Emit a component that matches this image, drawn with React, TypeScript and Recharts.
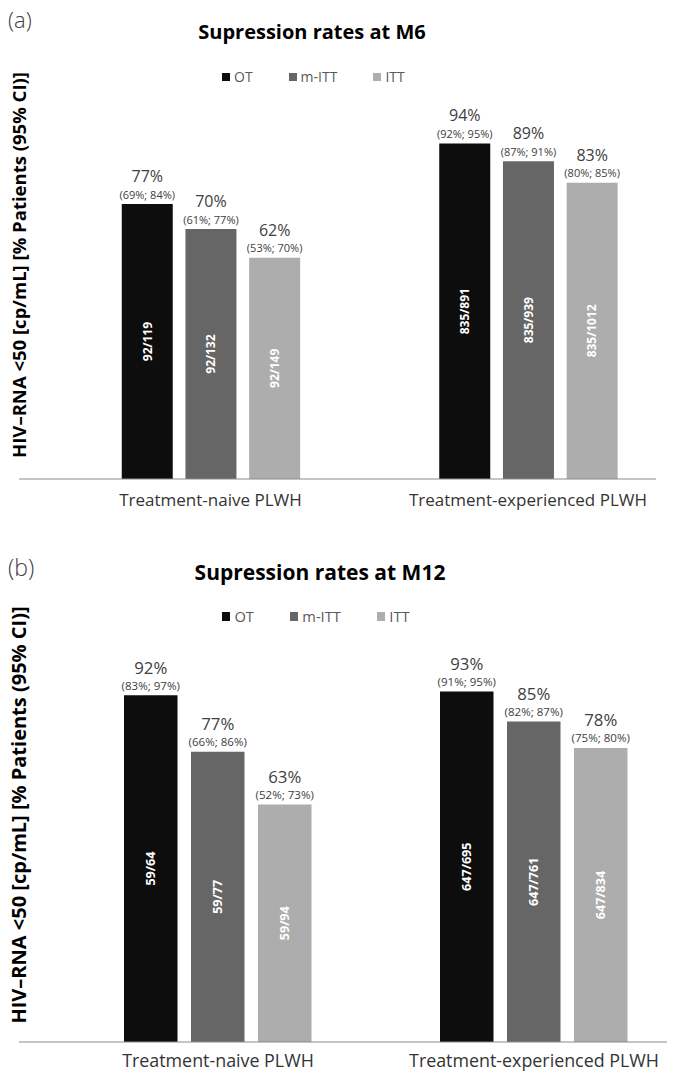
import { Bar, BarChart, LabelList, Legend, XAxis, YAxis } from "recharts";

const CATEGORIES = ["Treatment-naive PLWH", "Treatment-experienced PLWH"];
const SERIES = ["OT", "m-ITT", "ITT"];
const COLORS = ["#0d0d0d", "#666666", "#adadad"];

// M6
const M6_OT = [77, 94];
const M6_MITT = [70, 89];
const M6_ITT = [62, 83];
const M6_OT_CI = ["(69%; 84%)", "(92%; 95%)"];
const M6_MITT_CI = ["(61%; 77%)", "(87%; 91%)"];
const M6_ITT_CI = ["(53%; 70%)", "(80%; 85%)"];
const M6_OT_N = ["92/119", "835/891"];
const M6_MITT_N = ["92/132", "835/939"];
const M6_ITT_N = ["92/149", "835/1012"];

// M12
const M12_OT = [92, 93];
const M12_MITT = [77, 85];
const M12_ITT = [63, 78];
const M12_OT_CI = ["(83%; 97%)", "(91%; 95%)"];
const M12_MITT_CI = ["(66%; 86%)", "(82%; 87%)"];
const M12_ITT_CI = ["(52%; 73%)", "(75%; 80%)"];
const M12_OT_N = ["59/64", "647/695"];
const M12_MITT_N = ["59/77", "647/761"];
const M12_ITT_N = ["59/94", "647/834"];

const Y_LABEL = "HIV\u2013RNA <50 [cp/mL] [% Patients (95% CI)]";
const FONT = "'Open Sans', 'DejaVu Sans', sans-serif";

function buildRows(vals: number[][], cis: string[][], ns: string[][]) {
  return CATEGORIES.map((name, i) => {
    const row: any = { name };
    SERIES.forEach((s, j) => {
      row[s] = vals[j][i];
      row[s + "_ci"] = cis[j][i];
      row[s + "_n"] = ns[j][i];
    });
    return row;
  });
}

const M6_ROWS = buildRows(
  [M6_OT, M6_MITT, M6_ITT],
  [M6_OT_CI, M6_MITT_CI, M6_ITT_CI],
  [M6_OT_N, M6_MITT_N, M6_ITT_N]
);
const M12_ROWS = buildRows(
  [M12_OT, M12_MITT, M12_ITT],
  [M12_OT_CI, M12_MITT_CI, M12_ITT_CI],
  [M12_OT_N, M12_MITT_N, M12_ITT_N]
);

type PanelCfg = {
  tag: string;
  title: string;
  rows: any[];
  height: number;
  plotTop: number;
  plotLeft: number;
  plotRight: number;
  xAxisHeight: number;
  padLeft: number;
  padRight: number;
  barSize: number;
  barGap: number;
  s: number;
  titleY: number;
  titleX: number;
  tagY: number;
  legendY: number;
  legendX: number;
  legendGap: number;
  yLabelY: number;
  yLabelSize: number;
  tickMargin: number;
};

function PctLabel(fs: number, dy: number) {
  return (p: any) => (
    <text
      x={p.x + p.width / 2}
      y={p.y - dy}
      textAnchor="middle"
      dominantBaseline="central"
      fontSize={fs}
      fontFamily={FONT}
      fill="#404040"
    >
      {p.value}%
    </text>
  );
}

function CiLabel(fs: number, dy: number) {
  return (p: any) => (
    <text
      x={p.x + p.width / 2}
      y={p.y - dy}
      textAnchor="middle"
      dominantBaseline="central"
      fontSize={fs}
      fontFamily={FONT}
      fill="#404040"
    >
      {p.value}
    </text>
  );
}

function Panel({ c }: { c: PanelCfg }) {
  const s = c.s;
  const legendContent = () => (
    <div
      style={{
        display: "flex",
        gap: c.legendGap,
        paddingLeft: c.legendX,
        fontFamily: FONT,
        fontSize: 14 * s,
        color: "#595959",
        lineHeight: 1,
      }}
    >
      {SERIES.map((name, i) => (
        <div key={name} style={{ display: "flex", alignItems: "center", gap: 4 }}>
          <span
            style={{
              width: 8 * s,
              height: 8 * s,
              background: COLORS[i],
              display: "inline-block",
            }}
          />
          <span>{name}</span>
        </div>
      ))}
    </div>
  );

  return (
    <div style={{ position: "relative", width: 673, height: c.height }}>
      <div
        style={{
          position: "absolute",
          left: 8,
          top: c.tagY,
          fontFamily: FONT,
          fontSize: 22 * s,
          fontWeight: 300,
          color: "#404040",
          lineHeight: 1,
        }}
      >
        {c.tag}
      </div>
      <div
        style={{
          position: "absolute",
          left: c.titleX - 200,
          width: 400,
          top: c.titleY - 12 * s,
          textAlign: "center",
          fontFamily: FONT,
          fontSize: 20 * s,
          fontWeight: 700,
          color: "#000",
          lineHeight: 1.2,
        }}
      >
        {c.title}
      </div>
      <div
        style={{
          position: "absolute",
          left: 19,
          top: c.yLabelY,
          transform: "translate(-50%, -50%) rotate(-90deg)",
          whiteSpace: "nowrap",
          fontFamily: FONT,
          fontSize: c.yLabelSize,
          fontWeight: 700,
          color: "#000",
          lineHeight: 1,
        }}
      >
        {Y_LABEL}
      </div>
      <BarChart
        width={673}
        height={c.height}
        data={c.rows}
        margin={{ top: c.plotTop, right: 673 - c.plotRight, bottom: 0, left: c.plotLeft }}
        barSize={c.barSize}
        barGap={c.barGap}
        style={{ position: "absolute", left: 0, top: 0 }}
      >
        <YAxis hide domain={[0, 100]} />
        <XAxis
          dataKey="name"
          height={c.xAxisHeight}
          interval={0}
          tickLine={false}
          axisLine={{ stroke: "#8c8c8c", strokeWidth: 1.2 }}
          padding={{ left: c.padLeft, right: c.padRight }}
          tickMargin={c.tickMargin}
          tick={{ fill: "#333333", fontSize: 17 * s, fontFamily: FONT }}
        />
        <Legend
          verticalAlign="middle"
          align="center"
          layout="horizontal"
          wrapperStyle={{ top: c.legendY - 8, left: 0, width: 673 }}
          content={legendContent}
        />
        {SERIES.map((name, i) => (
          <Bar key={name} dataKey={name} fill={COLORS[i]} isAnimationActive={false}>
            <LabelList dataKey={name} content={PctLabel(16 * s, 28)} />
            <LabelList dataKey={name + "_ci"} content={CiLabel(11 * s, 10)} />
            <LabelList
              dataKey={name + "_n"}
              position="center"
              angle={-90}
              fill="#ffffff"
              fontSize={12 * s}
              fontWeight={700}
              fontFamily={FONT}
            />
          </Bar>
        ))}
      </BarChart>
    </div>
  );
}

const PANEL_A: PanelCfg = {
  tag: "(a)",
  title: "Supression rates at M6",
  rows: M6_ROWS,
  height: 530,
  plotTop: 122,
  plotLeft: 19,
  plotRight: 656,
  xAxisHeight: 51,
  padLeft: 32.75,
  padRight: -30.75,
  barSize: 51,
  barGap: 12.7,
  s: 1,
  titleY: 32,
  titleX: 312,
  tagY: 8,
  legendY: 78,
  legendX: 222,
  legendGap: 36,
  yLabelY: 265,
  yLabelSize: 18.5,
  tickMargin: 9,
};

const PANEL_B: PanelCfg = {
  tag: "(b)",
  title: "Supression rates at M12",
  rows: M12_ROWS,
  height: 542,
  plotTop: 135,
  plotLeft: 19,
  plotRight: 667,
  xAxisHeight: 30,
  padLeft: 41,
  padRight: -25,
  barSize: 53.5,
  barGap: 13.5,
  s: 1.05,
  titleY: 43,
  titleX: 320,
  tagY: 26,
  legendY: 87,
  legendX: 222,
  legendGap: 36,
  yLabelY: 285,
  yLabelSize: 20,
  tickMargin: 6,
};

export default function App() {
  return (
    <div style={{ position: "absolute", left: 0, top: 0, width: 673, height: 1072, background: "#fff" }}>
      <Panel c={PANEL_A} />
      <Panel c={PANEL_B} />
    </div>
  );
}
